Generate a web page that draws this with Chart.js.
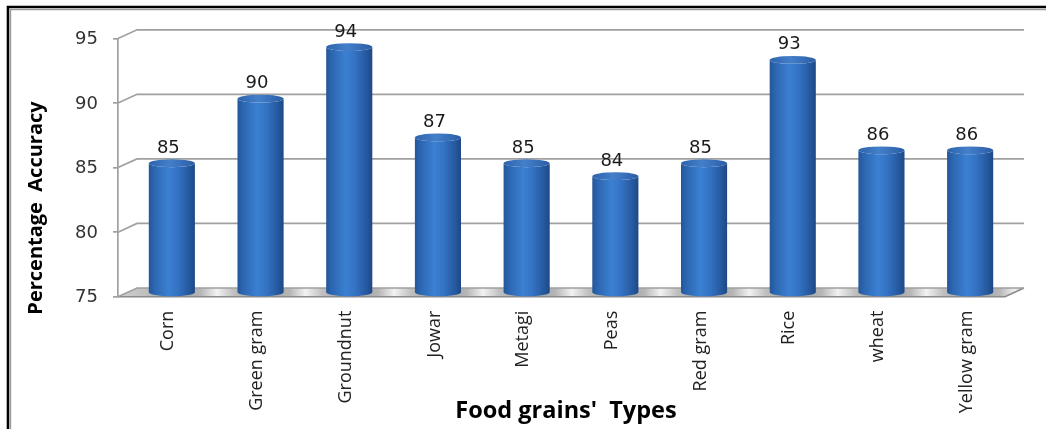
<!DOCTYPE html>
<html>
<head>
<meta charset="utf-8">
<script src="https://cdn.jsdelivr.net/npm/chart.js@4.4.1/dist/chart.umd.min.js"></script>
<style>
  html, body { margin: 0; padding: 0; background: #ffffff; }
  #wrap { position: relative; width: 1046px; height: 429px; }
  canvas { display: block; }
</style>
</head>
<body>
<div id="wrap"><canvas id="chart" width="1046" height="429"></canvas></div>
<script>
// Recognition accuracy per food grain
const categories = ['Corn', 'Green gram', 'Groundnut', 'Jowar', 'Metagi', 'Peas', 'Red gram', 'Rice', 'wheat', 'Yellow gram'];
const accuracy = [85, 90, 94, 87, 85, 84, 85, 93, 86, 86];
const yTickValues = [75, 80, 85, 90, 95];
const xTitle = "Food grains'  Types";
const yTitle = 'Percentage  Accuracy';

// depth of the 3-D box (back wall offset from the front plane)
const DEPTH_X = 19;
const DEPTH_Y = 8.7;
const GRID_COLOR = '#a0a0a0';

const box3d = {
  id: 'box3d',
  beforeDraw(chart) {
    const ctx = chart.ctx;
    ctx.save();
    ctx.fillStyle = '#ffffff';
    ctx.fillRect(0, 0, chart.width, chart.height);
    // page frame
    ctx.strokeStyle = '#000000';
    ctx.lineWidth = 2.6;
    ctx.beginPath();
    ctx.moveTo(8, chart.height);
    ctx.lineTo(8, 7);
    ctx.lineTo(chart.width, 7);
    ctx.stroke();
    ctx.strokeStyle = '#9a9a9a';
    ctx.lineWidth = 1.2;
    ctx.beginPath();
    ctx.moveTo(10.6, chart.height);
    ctx.lineTo(10.6, 9.6);
    ctx.lineTo(chart.width, 9.6);
    ctx.stroke();
    ctx.restore();
  },
  beforeDatasetsDraw(chart) {
    const ctx = chart.ctx;
    const ys = chart.scales.y;
    const { left: L, right: R } = chart.chartArea;
    const meta = chart.getDatasetMeta(0);
    const yF = ys.getPixelForValue(ys.min);
    ctx.save();

    // floor
    const g = ctx.createLinearGradient(L, 0, R + DEPTH_X, 0);
    const span = R + DEPTH_X - L;
    g.addColorStop(0, '#d0d0d0');
    meta.data.forEach((el) => {
      const cx = el.x + DEPTH_X / 2;
      const w = el.width / 2;
      g.addColorStop(Math.max(0, (cx - w - 4 - L) / span), '#c0c0c0');
      g.addColorStop((cx - L) / span, '#999999');
      g.addColorStop(Math.min(1, (cx + w + 6 - L) / span), '#b6b6b6');
      g.addColorStop(Math.min(1, (cx + w + 22 - L) / span), '#f2f2f2');
    });
    g.addColorStop(1, '#c8c8c8');
    ctx.beginPath();
    ctx.moveTo(L, yF);
    ctx.lineTo(R, yF);
    ctx.lineTo(R + DEPTH_X, yF - DEPTH_Y);
    ctx.lineTo(L + DEPTH_X, yF - DEPTH_Y);
    ctx.closePath();
    ctx.fillStyle = g;
    ctx.fill();
    ctx.strokeStyle = '#8a8a8a';
    ctx.lineWidth = 1.5;
    ctx.beginPath();
    ctx.moveTo(L, yF);
    ctx.lineTo(R, yF);
    ctx.lineTo(R + DEPTH_X, yF - DEPTH_Y);
    ctx.stroke();

    // back-wall gridlines and their links to the front axis
    ctx.strokeStyle = GRID_COLOR;
    ctx.lineWidth = 1.7;
    ys.ticks.forEach(t => {
      const yf = ys.getPixelForValue(t.value);
      const yb = yf - DEPTH_Y;
      ctx.beginPath();
      ctx.moveTo(L, yf);
      ctx.lineTo(L + DEPTH_X, yb);
      ctx.lineTo(R + DEPTH_X, yb);
      ctx.stroke();
    });
    ctx.restore();
  },
  afterDatasetsDraw(chart) {
    const ctx = chart.ctx;
    const ys = chart.scales.y;
    const meta = chart.getDatasetMeta(0);
    const values = chart.data.datasets[0].data;
    const floorY = ys.getPixelForValue(ys.min);
    ctx.save();
    meta.data.forEach((el, i) => {
      const { x, y, width } = el.getProps(['x', 'y', 'width'], true);
      const cx = x + DEPTH_X / 2;
      const yTop = y - DEPTH_Y / 2;
      const yBot = floorY - DEPTH_Y / 2;
      const rx = width / 2;
      const ry = 3.9;

      // cylinder body
      const body = ctx.createLinearGradient(cx - rx, 0, cx + rx, 0);
      body.addColorStop(0, '#24569a');
      body.addColorStop(0.12, '#2c66b0');
      body.addColorStop(0.42, '#3b80d2');
      body.addColorStop(0.62, '#3473c4');
      body.addColorStop(0.88, '#25589d');
      body.addColorStop(1, '#1d4886');
      ctx.beginPath();
      ctx.moveTo(cx - rx, yTop);
      ctx.lineTo(cx - rx, yBot);
      ctx.ellipse(cx, yBot, rx, ry, 0, Math.PI, 0, true);
      ctx.lineTo(cx + rx, yTop);
      ctx.ellipse(cx, yTop, rx, ry, 0, 0, Math.PI, false);
      ctx.closePath();
      ctx.fillStyle = body;
      ctx.fill();

      // cylinder cap
      const cap = ctx.createLinearGradient(cx - rx, 0, cx + rx, 0);
      cap.addColorStop(0, '#2d63ab');
      cap.addColorStop(0.45, '#447fcb');
      cap.addColorStop(1, '#2a5ea4');
      ctx.beginPath();
      ctx.ellipse(cx, yTop, rx, ry, 0, 0, Math.PI * 2);
      ctx.fillStyle = cap;
      ctx.fill();

      // value label
      ctx.fillStyle = '#1a1a1a';
      ctx.font = '18px "DejaVu Sans"';
      ctx.textAlign = 'center';
      ctx.textBaseline = 'middle';
      ctx.fillText(String(values[i]), x + 6, y - 19.5);
    });

    // axis titles
    ctx.fillStyle = '#000000';
    ctx.textAlign = 'center';
    ctx.textBaseline = 'middle';
    ctx.font = 'bold 23.5px "Open Sans"';
    ctx.fillText(xTitle, 566, 411.5);
    ctx.font = 'bold 20px "Open Sans"';
    ctx.save();
    ctx.translate(36.5, 208);
    ctx.rotate(-Math.PI / 2);
    ctx.fillText(yTitle, 0, 0);
    ctx.restore();
    ctx.restore();
  }
};

new Chart(document.getElementById('chart'), {
  type: 'bar',
  data: {
    labels: categories,
    datasets: [{
      label: 'Percentage Accuracy',
      data: accuracy,
      base: 75,
      backgroundColor: 'rgba(0,0,0,0)',
      borderWidth: 0,
      categoryPercentage: 1,
      barPercentage: 0.52
    }]
  },
  options: {
    responsive: false,
    animation: false,
    devicePixelRatio: 1,
    layout: { padding: { left: 0, top: 38.5, right: 41, bottom: 0 } },
    plugins: {
      legend: { display: false },
      tooltip: { enabled: false },
      title: { display: false }
    },
    scales: {
      x: {
        grid: { display: false, drawTicks: false },
        border: { display: false },
        ticks: {
          autoSkip: false,
          minRotation: 90,
          maxRotation: 90,
          padding: 14,
          labelOffset: 6,
          color: '#222222',
          font: { family: 'Open Sans', size: 18 }
        },
        afterFit(scale) { scale.height = 132.3; }
      },
      y: {
        min: 75,
        max: 95,
        afterBuildTicks(scale) { scale.ticks = yTickValues.map(v => ({ value: v })); },
        grid: { drawOnChartArea: false, drawTicks: true, tickLength: 5, color: GRID_COLOR, lineWidth: 1.7 },
        border: { display: true, color: GRID_COLOR, width: 1.7 },
        ticks: {
          padding: 15,
          labelOffset: 1,
          color: '#333333',
          font: { family: 'DejaVu Sans', size: 18 }
        },
        afterFit(scale) { scale.width = 118; }
      }
    }
  },
  plugins: [box3d]
});
</script>
</body>
</html>
